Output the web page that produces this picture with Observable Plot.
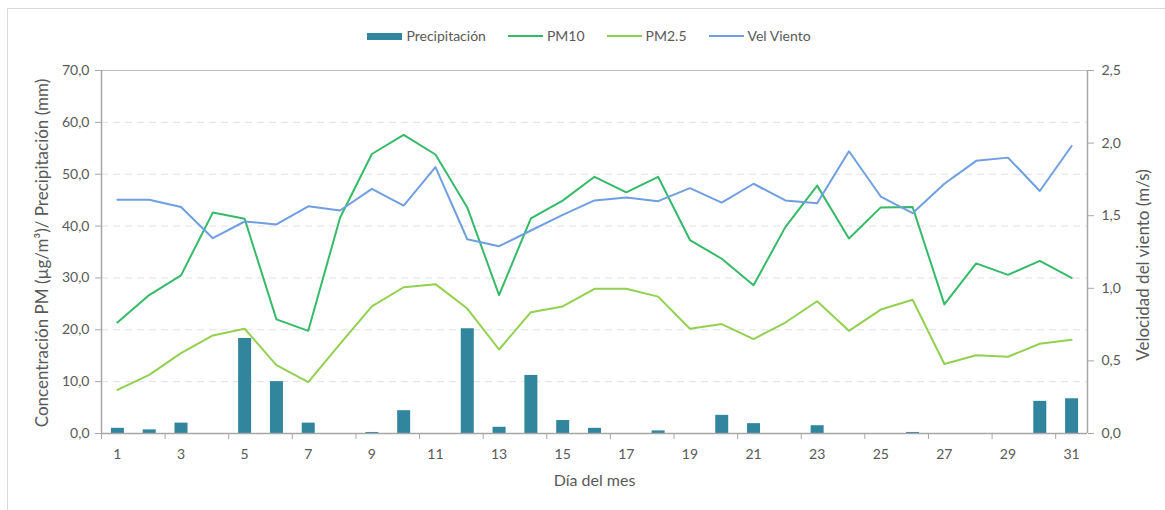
<!DOCTYPE html>
<html>
<head>
<meta charset="utf-8">
<script src="https://cdn.jsdelivr.net/npm/d3@7"></script>
<script src="https://cdn.jsdelivr.net/npm/@observablehq/plot@0.6"></script>
<style>
  html, body { margin: 0; padding: 0; background: #fff; overflow: hidden; }
  #wrap { position: relative; width: 1165px; height: 510px; font-family: Lato, "Noto Sans", sans-serif; }
  #border { position: absolute; left: 7px; top: 8px; width: 1300px; height: 700px; border: 1px solid #D9D9D9; box-sizing: border-box; }
  #legend { position: relative; height: 55px; box-sizing: border-box; padding: 17px 78px 0 91px; display: flex; justify-content: center; align-items: center; gap: 22px; font-size: 14px; color: #595959; line-height: 18px; }
  #legend .item { display: flex; align-items: center; height: 18px; }
  #legend .sw { display: inline-block; width: 35px; margin-right: 4px; }
  #chart { position: relative; }
  #chart g[aria-label="y-axis tick"] path, #chart g[aria-label="x-axis tick"] path { stroke: #A6A6A6; }
</style>
</head>
<body>
<div id="wrap">
  <div id="border"></div>
  <div id="legend"></div>
  <div id="chart"></div>
</div>
<script>
const days = [1,2,3,4,5,6,7,8,9,10,11,12,13,14,15,16,17,18,19,20,21,22,23,24,25,26,27,28,29,30,31];
const precip = [1.0,0.7,2.0,0,18.3,10.0,2.0,0,0.2,4.4,0,20.2,1.2,11.2,2.5,1.0,0,0.5,0,3.5,1.9,0,1.5,0,0,0.2,0,0,0,6.2,6.7];
const pm10 = [21.4,26.7,30.5,42.6,41.4,22.0,19.8,41.6,53.9,57.6,53.8,43.6,26.7,41.5,44.9,49.5,46.5,49.5,37.3,33.7,28.6,39.8,47.8,37.6,43.6,43.7,24.9,32.8,30.6,33.3,30.0];
const pm25 = [8.4,11.3,15.5,18.9,20.2,13.2,9.9,17.3,24.5,28.2,28.8,24.1,16.2,23.4,24.5,27.9,27.9,26.4,20.2,21.1,18.2,21.4,25.5,19.8,23.9,25.8,13.4,15.1,14.8,17.3,18.1];
const wind = [1.61,1.61,1.56,1.345,1.46,1.44,1.565,1.536,1.685,1.57,1.834,1.338,1.29,1.398,1.506,1.605,1.625,1.60,1.69,1.59,1.72,1.605,1.586,1.944,1.632,1.517,1.72,1.878,1.90,1.67,1.98];
const leftTicks = [0,10,20,30,40,50,60,70];
const rightTicks = [0,0.5,1.0,1.5,2.0,2.5];
const xLabels = [1,3,5,7,9,11,13,15,17,19,21,23,25,27,29,31];
const seriesNames = ["Precipitación","PM10","PM2.5","Vel Viento"];
const colors = {"Precipitación":"#31859C","PM10":"#35BA68","PM2.5":"#92D050","Vel Viento":"#6F9FE0"};
const leftTitle = "Concentración PM (µg/m³)/ Precipitación (mm)";
const rightTitle = "Velocidad del viento (m/s)";
const xTitle = "Día del mes";

const leftMax = 70, rightMax = 2.5, ratio = leftMax / rightMax;
const rows = days.map((d, i) => ({day: d, precip: precip[i], pm10: pm10[i], pm25: pm25[i], wind: wind[i]}));
const fmt = v => v.toFixed(1).replace(".", ",");

// legend
const legend = document.getElementById("legend");
seriesNames.forEach((name, i) => {
  const it = document.createElement("div");
  it.className = "item";
  const sw = document.createElement("span");
  sw.className = "sw";
  sw.style.height = i === 0 ? "7px" : "2px";
  sw.style.background = colors[name];
  it.appendChild(sw);
  it.appendChild(document.createTextNode(name));
  legend.appendChild(it);
});

const chart = Plot.plot({
  width: 1165,
  height: 455,
  marginLeft: 101,
  marginRight: 78,
  marginTop: 15,
  marginBottom: 77,
  style: {fontFamily: "Lato, 'Noto Sans', sans-serif", fontSize: "14px", color: "#595959", background: "transparent"},
  x: {type: "linear", domain: [days[0] - 0.5, days[days.length - 1] + 0.5]},
  y: {domain: [0, leftMax]},
  marks: [
    Plot.ruleY(leftTicks.slice(1, -1), {stroke: "#E0E0E0", strokeDasharray: "7,5"}),
    Plot.ruleY([leftMax], {stroke: "#BFBFBF"}),
    Plot.ruleX(rows, {x: "day", y1: 0, y2: "precip", stroke: colors["Precipitación"], strokeWidth: 13}),
    Plot.line(rows, {x: "day", y: "pm10", stroke: colors["PM10"], strokeWidth: 2}),
    Plot.line(rows, {x: "day", y: "pm25", stroke: colors["PM2.5"], strokeWidth: 2}),
    Plot.line(rows, {x: "day", y: d => d.wind * ratio, stroke: colors["Vel Viento"], strokeWidth: 2}),
    Plot.ruleX([days[0] - 0.5], {stroke: "#A6A6A6", strokeWidth: 1.5}),
    Plot.ruleX([days[days.length - 1] + 0.5], {stroke: "#A6A6A6", strokeWidth: 1.5}),
    Plot.ruleY([0], {stroke: "#A6A6A6", strokeWidth: 1.5}),
    Plot.axisY(leftTicks, {anchor: "left", tickSize: 6, tickPadding: 6, tickFormat: fmt, label: null, stroke: "#A6A6A6", color: "#595959"}),
    Plot.axisY(rightTicks.map(v => v * ratio), {anchor: "right", tickSize: 6, tickPadding: 8, tickFormat: v => fmt(v / ratio), label: null, stroke: "#A6A6A6", color: "#595959"}),
    Plot.axisX(xLabels.map(d => d - 0.5), {anchor: "bottom", tickSize: 6, tickFormat: () => "", label: null, stroke: "#A6A6A6", color: "#595959"}),
    Plot.axisX(xLabels, {anchor: "bottom", tickSize: 0, tickPadding: 16, tickFormat: d => String(d), label: null, color: "#595959"}),
    Plot.text([leftTitle], {frameAnchor: "left", textAnchor: "middle", rotate: -90, dx: -59, dy: 1, fill: "#595959", fontSize: 17}),
    Plot.text([rightTitle], {frameAnchor: "right", textAnchor: "middle", rotate: -90, dx: 56, dy: 13, fill: "#595959", fontSize: 17}),
    Plot.text([xTitle], {frameAnchor: "bottom", dy: 52, fill: "#595959", fontSize: 16})
  ]
});
document.getElementById("chart").appendChild(chart);
</script>
</body>
</html>
